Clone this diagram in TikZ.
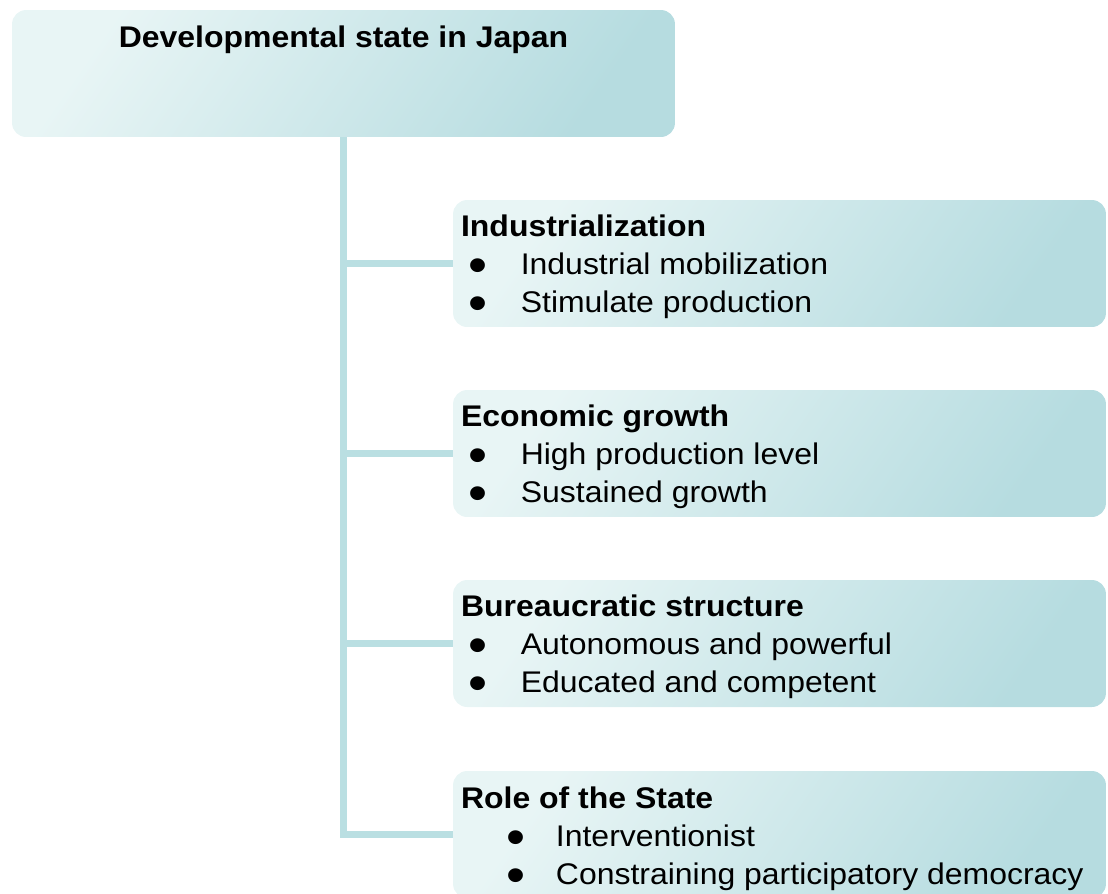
\documentclass[tikz,border=0pt]{standalone}
\usepackage{fontspec}
\setmainfont[FakeStretch=1.07]{Liberation Sans}
\usetikzlibrary{positioning}
\definecolor{boxlight}{HTML}{E8F5F5}
\definecolor{boxdark}{HTML}{B6DCE0}
\definecolor{trunk}{HTML}{BADFE2}
\newcommand{\bitem}[1][0pt]{\hspace*{#1}\makebox[34pt][l]{\hspace{4.5pt}\smash{\raisebox{-4.5pt}{\scalebox{1.7}{\textbullet}}}}}
\tikzset{
  card/.style={rounded corners=8pt, top color=boxlight, bottom color=boxdark,
    shading angle=55, minimum width=13.06cm, minimum height=2.54cm, inner sep=0pt},
  branch/.style={draw=trunk, line width=4.5pt},
  txt/.style={anchor=north west, align=left, inner sep=0pt,
    font=\fontsize{17pt}{21.5pt}\selectfont}
}
\begin{document}
\begin{tikzpicture}[x=0.02cm, y=-0.02cm]
\useasboundingbox (0,0) rectangle (1108,893);

% boxes
\node[card, minimum width=13.26cm] (top) at (343.5,73.5) {};
\node[card] (b1) at (779.5,263.5) {};
\node[card] (b2) at (779.5,453.5) {};
\node[card] (b3) at (779.5,643.5) {};
\node[card] (b4) at (779.5,834.5) {};

% trunk and branches
\draw[branch] (top.south) |- (b4.west);
\foreach \b in {b1,b2,b3}
{
  \draw[branch] (top.south |- \b.west) -- (\b.west);
}

% texts
\node[txt, anchor=north] (ttl) at (343.5,26) {\textbf{Developmental state in Japan}};
\node[txt] (t1) at ([shift={(8,15)}]b1.north west)
  {\textbf{Industrialization}\\ \bitem Industrial mobilization\\ \bitem Stimulate production};
\node[txt] (t2) at ([shift={(8,15)}]b2.north west)
  {\textbf{Economic growth}\\ \bitem High production level\\ \bitem Sustained growth};
\node[txt] (t3) at ([shift={(8,15)}]b3.north west)
  {\textbf{Bureaucratic structure}\\ \bitem Autonomous and powerful\\ \bitem Educated and competent};
\node[txt] (t4) at ([shift={(8,16)}]b4.north west)
  {\textbf{Role of the State}\\ \bitem[21.5pt]\hspace*{-1.5pt}Interventionist\\ \bitem[21.5pt]\hspace*{-1.5pt}Constraining participatory democracy};
\end{tikzpicture}
\end{document}
